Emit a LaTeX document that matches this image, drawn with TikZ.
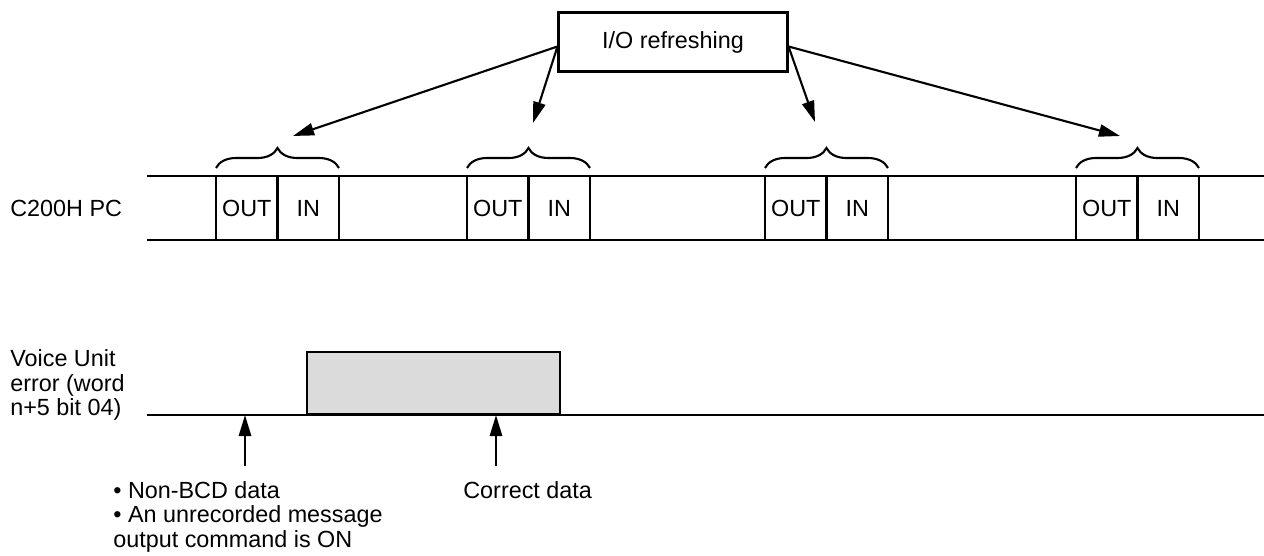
\documentclass[tikz,border=0pt]{standalone}
\usepackage{fontspec}
\setmainfont{Liberation Sans}
\usetikzlibrary{arrows.meta,positioning,decorations.pathreplacing}

\begin{document}
\begin{tikzpicture}[x=0.02cm,y=0.02cm,>={Triangle[length=12pt,width=7pt]},
  font=\fontsize{13.3}{14}\selectfont,
  wire/.style={line width=1.2pt},
  cell/.style={draw,line width=1.2pt,minimum width=1.23cm,minimum height=1.28cm,inner sep=0pt,outer sep=0pt},
  curly/.style={decorate,decoration={brace,amplitude=0.4cm},line width=1.2pt}]
\useasboundingbox (0,0) rectangle (1264,555);
% refresh box and the PC cycle
\node[draw,line width=1.2pt,minimum width=4.58cm,minimum height=1.18cm] (io) at (673,513) {I/O refreshing};
\node[anchor=west,inner sep=0pt] (pc) at (10,347) {C200H PC};
\draw[wire] (147,379) -- (1264,379);
\draw[wire] (147,315) -- (1264,315);
\foreach \n/\x in {1/216,2/467,3/765,4/1076} {
  \node[cell,anchor=south west] (out\n) at (\x,315) {OUT};
  \node[cell,right=0pt of out\n] (in\n) {IN};
  \draw[curly] ([yshift=0.16cm]out\n.north west) -- ([yshift=0.16cm]in\n.north east);
}
\coordinate (ioL) at ([yshift=-0.09cm]io.west);
\coordinate (ioR) at ([yshift=-0.09cm]io.east);
\coordinate (h1) at (293,419);
\coordinate (h2) at (533,432);
\coordinate (h3) at (815,433);
\coordinate (h4) at (1120,419);
\draw[wire,->] (ioL) -- (h1);
\draw[wire,->] (ioL) -- (h2);
\draw[wire,->] (ioR) -- (h3);
\draw[wire,->] (ioR) -- (h4);
% error flag
\node[anchor=west,align=left,inner sep=0pt] (vu) at (10,170) {Voice Unit\\error (word\\n+5 bit 04)};
\draw[wire] (147,140) -- (1264,140);
\node[draw,fill=black!14,line width=1.2pt,minimum width=5.06cm,minimum height=1.24cm,anchor=south west,inner sep=0pt] (pulse) at (306,140) {};
\coordinate (e1) at (245,140);
\coordinate (b1) at (245,89);
\coordinate (e2) at (496,140);
\coordinate (b2) at (496,89);
\draw[wire,->] (b1) -- (e1);
\draw[wire,->] (b2) -- (e2);
\node[anchor=north west,align=left,inner sep=0pt] (cause) at (113,74) {• Non-BCD data\\• An unrecorded message\\output command is ON};
\node[anchor=north west,inner sep=0pt] (ok) at (463,74) {Correct data};
\end{tikzpicture}
\end{document}
